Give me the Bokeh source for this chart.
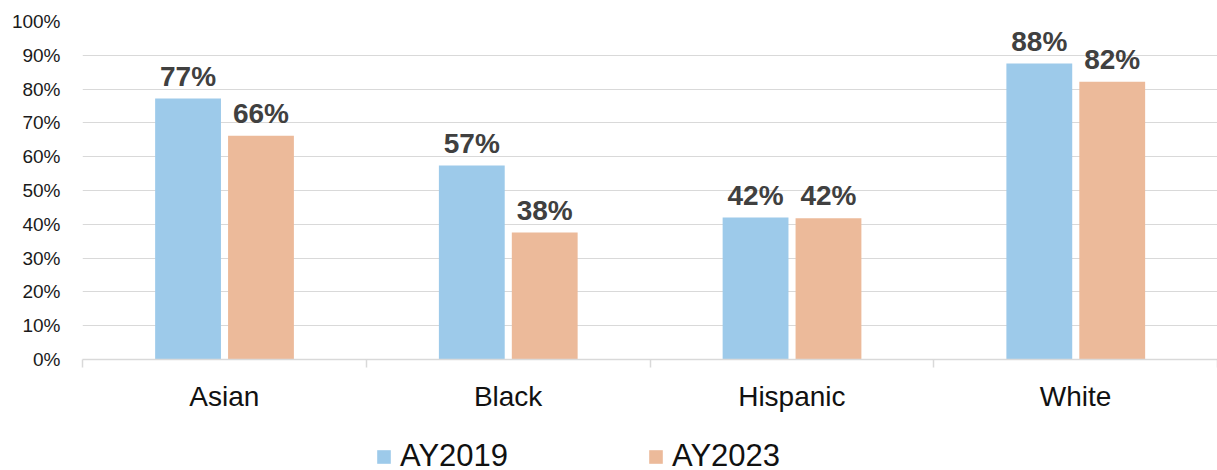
from bokeh.plotting import figure
from bokeh.layouts import column
from bokeh.models import (ColumnDataSource, Range1d, FixedTicker,
                          NumeralTickFormatter, Legend, LegendItem)
from bokeh.transform import dodge
from bokeh.core.properties import value
from bokeh.embed import file_html
from bokeh.resources import INLINE

categories = ["Asian", "Black", "Hispanic", "White"]
ay2019 = [0.772, 0.574, 0.420, 0.876]
ay2023 = [0.662, 0.376, 0.418, 0.822]
series_names = ["AY2019", "AY2023"]
y_ticks = [i / 10 for i in range(11)]

BLUE = "#9DCAEA"
ORANGE = "#ECBA9A"
GRID = "#D9D9D9"
FONT = "Liberation Sans"

n = len(categories)
centers = [i + 0.5 for i in range(n)]

src = ColumnDataSource(dict(
    xc=centers,
    a=ay2019,
    b=ay2023,
    la=[f"{round(v * 100)}%" for v in ay2019],
    lb=[f"{round(v * 100)}%" for v in ay2023],
))

p = figure(width=1217, height=425, x_range=Range1d(0, n), y_range=Range1d(0, 1),
           output_backend="svg", toolbar_location=None,
           min_border_left=82, min_border_right=0, min_border_top=21, min_border_bottom=66)
p.outline_line_color = None
p.background_fill_color = "white"
p.border_fill_color = "white"

# bars
r1 = p.vbar(x=dodge("xc", -0.128), top="a", width=0.232, source=src,
            fill_color=BLUE, line_color=None)
r2 = p.vbar(x=dodge("xc", 0.129), top="b", width=0.232, source=src,
            fill_color=ORANGE, line_color=None)

# data labels
for col, lab, off in (("a", "la", -0.128), ("b", "lb", 0.129)):
    p.text(x=dodge("xc", off), y=dodge(col, 0.066), text=lab, source=src,
           text_font=value(FONT), text_font_style="bold", text_font_size="28px",
           text_color="#404040", text_align="center", text_baseline="middle")

# y axis
p.yaxis.ticker = FixedTicker(ticks=y_ticks)
p.yaxis.formatter = NumeralTickFormatter(format="0%")
p.yaxis.axis_line_color = None
p.yaxis.major_tick_line_color = None
p.yaxis.minor_tick_line_color = None
p.yaxis.major_tick_out = 0
p.yaxis.major_label_text_font = FONT
p.yaxis.major_label_text_font_size = "19px"
p.yaxis.major_label_text_color = "#1a1a1a"
p.yaxis.major_label_standoff = 22
p.ygrid.grid_line_color = GRID
p.ygrid.ticker = FixedTicker(ticks=y_ticks)
p.xgrid.grid_line_color = None

# x axis: category names at centres, boundary ticks as minor ticks
xaxis = p.xaxis[0]
xaxis.ticker = FixedTicker(ticks=centers, minor_ticks=list(range(n + 1)))
xaxis.major_label_overrides = {c: name for c, name in zip(centers, categories)}
xaxis.axis_line_color = GRID
xaxis.axis_line_width = 1.5
xaxis.major_tick_line_color = None
xaxis.major_tick_out = 0
xaxis.major_tick_in = 0
xaxis.minor_tick_line_color = GRID
xaxis.minor_tick_line_width = 1.5
xaxis.minor_tick_in = 0
xaxis.minor_tick_out = 8
xaxis.major_label_text_font = FONT
xaxis.major_label_text_font_size = "28px"
xaxis.major_label_text_color = "#111111"
xaxis.major_label_standoff = 13

# legend strip below the chart (hidden copies of the bar renderers feed the legend)
lf = figure(width=1217, height=45, x_range=Range1d(0, n), y_range=Range1d(0, 1),
            output_backend="svg", toolbar_location=None, x_axis_type=None, y_axis_type=None,
            min_border=0, min_border_left=82, min_border_right=0, min_border_top=0,
            min_border_bottom=0)
lf.outline_line_color = None
lf.xgrid.visible = False
lf.ygrid.visible = False
lr1 = lf.vbar(x="xc", top="a", width=0.232, source=src, fill_color=BLUE, line_color=None,
              visible=False)
lr2 = lf.vbar(x="xc", top="b", width=0.232, source=src, fill_color=ORANGE, line_color=None,
              visible=False)
legend = Legend(items=[LegendItem(label=series_names[0], renderers=[lr1]),
                       LegendItem(label=series_names[1], renderers=[lr2])],
                orientation="horizontal", location=(293, -4),
                padding=0, margin=0, spacing=139, label_standoff=8,
                glyph_width=17, glyph_height=17, border_line_color=None,
                background_fill_alpha=0, inactive_fill_alpha=0, label_text_font=FONT,
                label_text_font_size="31px", label_text_color="#111111")
lf.add_layout(legend, "center")

open("out.html", "w").write(file_html(column(p, lf, spacing=0), INLINE))
